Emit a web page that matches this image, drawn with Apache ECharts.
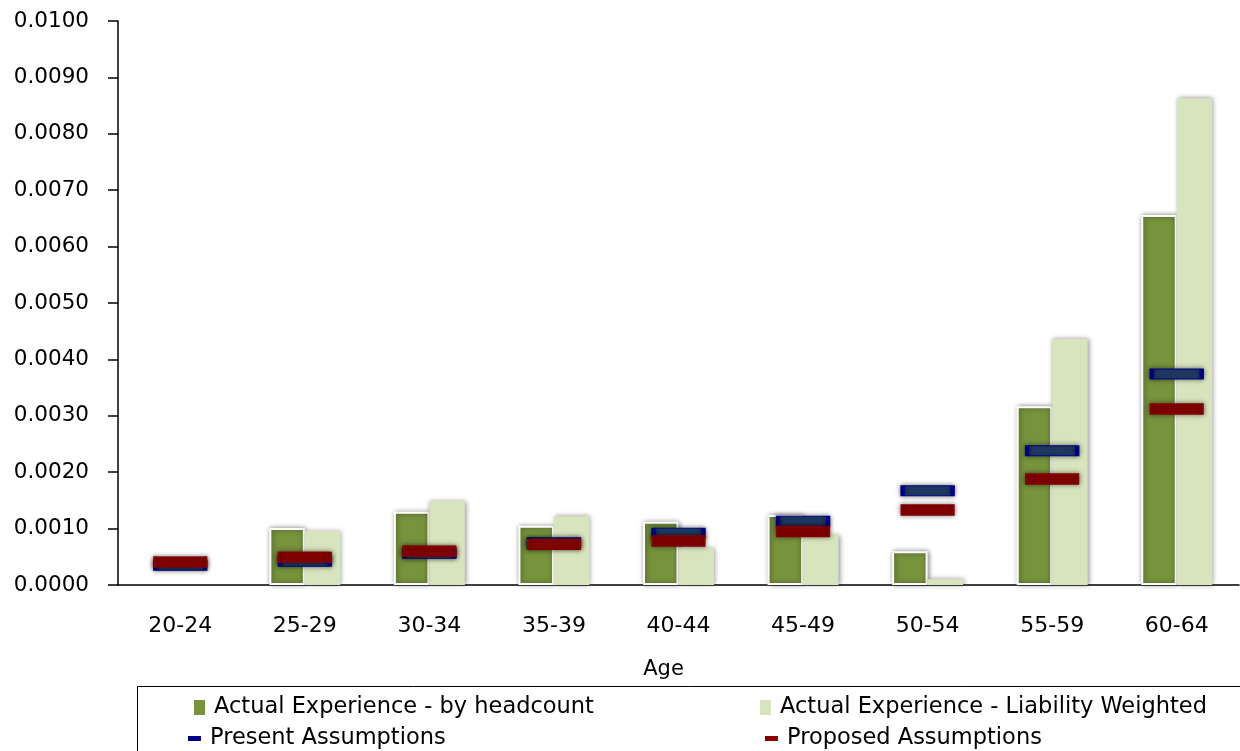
<!DOCTYPE html>
<html><head><meta charset="utf-8">
<script src="https://cdn.jsdelivr.net/npm/echarts@6/dist/echarts.min.js"></script>
<style>html,body{margin:0;padding:0;background:#fff}#c{width:1240px;height:751px}</style>
</head><body><div id="c"></div>
<script>
const categories = ['20-24','25-29','30-34','35-39','40-44','45-49','50-54','55-59','60-64'];
const headcount = [null, 0.00101, 0.00130, 0.00105, 0.00112, 0.00124, 0.00060, 0.00317, 0.00656];
const liability = [null, 0.00096, 0.00149, 0.00122, 0.00066, 0.00089, 0.00010, 0.00436, 0.00863];
const present = [0.00035, 0.00042, 0.00056, 0.00075, 0.00092, 0.00113, 0.00167, 0.00238, 0.00374];
const proposed = [0.00041, 0.00049, 0.00060, 0.00072, 0.00078, 0.00095, 0.00133, 0.00188, 0.00312];

const font = 'DejaVu Sans';
const chart = echarts.init(document.getElementById('c'));
const legText = {fontFamily: font, fontSize: 22.5, color: '#000'};
function leg(name, left, top, color, w, h, gap) {
  return {data: [{name: name, icon: 'rect', itemStyle: {color: color, borderWidth: 0, shadowBlur: 0}}],
    left: left, top: top, itemWidth: w, itemHeight: h,
    textStyle: Object.assign({padding: [0, 0, 0, gap]}, legText), padding: 0, itemGap: 0, selectedMode: false};
}
chart.setOption({
  animation: false,
  grid: {left: 118, right: 1, top: 21, bottom: 166},
  xAxis: {
    type: 'category', data: categories, name: 'Age', nameLocation: 'middle', nameGap: 74,
    nameTextStyle: {fontFamily: font, fontSize: 21, color: '#000', padding: [0, 30, 0, 0]},
    axisLine: {lineStyle: {color: '#000', width: 1.5}},
    axisTick: {length: 8, lineStyle: {color: '#000', width: 1.5}},
    axisLabel: {fontFamily: font, fontSize: 22, color: '#000', margin: 30}
  },
  yAxis: {
    type: 'value', min: 0, max: 0.01, interval: 0.001,
    axisLine: {show: true, lineStyle: {color: '#000', width: 1.5}},
    axisTick: {show: true, length: 10, lineStyle: {color: '#000', width: 1.5}},
    splitLine: {show: false},
    axisLabel: {fontFamily: font, fontSize: 21.5, color: '#000', margin: 29,
      formatter: v => v.toFixed(4)}
  },
  legend: [
    leg('Actual Experience - by headcount', 194, 696, '#77933C', 11, 15, 4),
    leg('Actual Experience - Liability Weighted', 760, 696, '#D7E4BD', 11, 15, 4),
    leg('Present Assumptions', 188, 727, '#00008B', 13, 5, 4),
    leg('Proposed Assumptions', 765, 727, '#8B0000', 13, 5, 4)
  ],
  graphic: [{type: 'rect', shape: {x: 137.5, y: 686.5, width: 1120, height: 80},
    style: {fill: 'none', stroke: '#000', lineWidth: 1}}],
  series: [
    {name: 'Actual Experience - by headcount', type: 'bar', data: headcount,
      barGap: '0%', barCategoryGap: '43%',
      itemStyle: {color: '#77933C', borderColor: '#fff', borderWidth: 2,
        shadowBlur: 5, shadowColor: 'rgba(0,0,0,0.45)', shadowOffsetX: 1, shadowOffsetY: 0}},
    {name: 'Actual Experience - Liability Weighted', type: 'bar', data: liability,
      itemStyle: {color: '#D7E4BD',
        shadowBlur: 5, shadowColor: 'rgba(0,0,0,0.45)', shadowOffsetX: 1, shadowOffsetY: 0}},
    {name: 'Present Assumptions', type: 'scatter', data: present, symbol: 'rect', symbolSize: [50, 10],
      itemStyle: {color: '#1F3A64', borderColor: '#00008B', borderWidth: 2, opacity: 1,
        shadowBlur: 5, shadowColor: 'rgba(0,0,0,0.5)'}},
    {name: 'Proposed Assumptions', type: 'scatter', data: proposed, symbol: 'rect', symbolSize: [52, 11],
      itemStyle: {color: '#800000', borderColor: '#8B0000', borderWidth: 1, opacity: 1,
        shadowBlur: 5, shadowColor: 'rgba(0,0,0,0.5)'}}
  ]
});
</script></body></html>
